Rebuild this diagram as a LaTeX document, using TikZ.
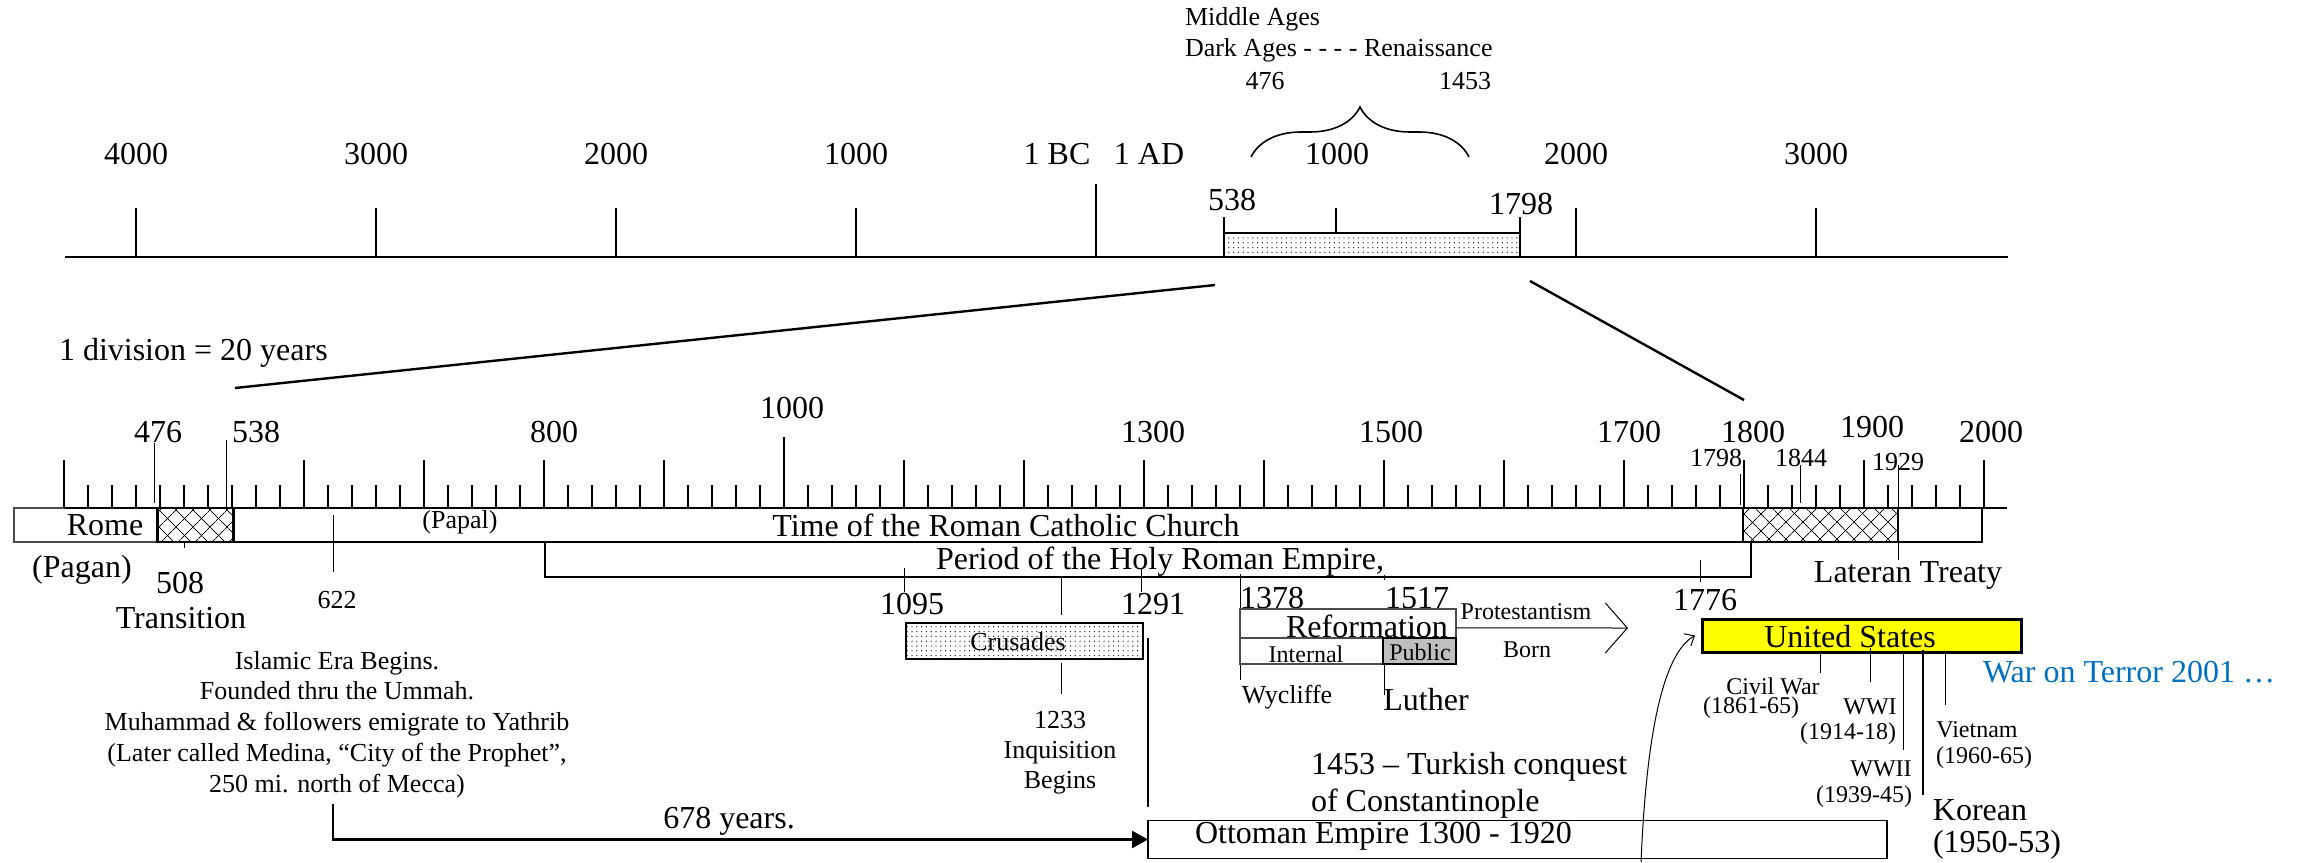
\documentclass[tikz,border=0pt]{standalone}
\usepackage{fontspec}
\setmainfont{Liberation Serif}
\usepackage{xcolor}
\usepackage{tikz}
\usetikzlibrary{arrows.meta,positioning,calc,patterns,patterns.meta,decorations.pathreplacing}
\definecolor{usyellow}{HTML}{FFFF00}
\definecolor{warblue}{HTML}{0070C0}
\definecolor{pubgray}{HTML}{BFBFBF}
\tikzset{
    every picture/.style={line cap=butt,line join=miter},
    lbl/.style={inner sep=0pt,outer sep=0pt,align=center,
      font=\fontsize{16}{18.5}\selectfont},
    lblmid/.style={inner sep=0pt,outer sep=0pt,align=center,
      font=\fontsize{13}{15.4}\selectfont},
    lblsml/.style={inner sep=0pt,outer sep=0pt,align=center,
      font=\fontsize{12}{14}\selectfont},
    axisline/.style={line width=1.4pt},
    tickmark/.style={line width=0.8pt},
    marker/.style={line width=0.5pt},
    bandbox/.style={draw,line width=0.9pt,inner sep=0pt,outer sep=0pt},
    thinbox/.style={bandbox,draw=black!70,line width=0.6pt},
    hatchbox/.style={bandbox,line width=1.4pt,
      pattern={Lines[angle=45,distance=6.5pt,line width=0.5pt]},
      postaction={pattern={Lines[angle=-45,distance=6.5pt,line width=0.5pt]}}},
    dotbox/.style={bandbox,line width=1.3pt,
      pattern={Dots[distance=2.4pt,radius=0.35pt]},pattern color=black!85},
    zoomline/.style={line width=1.2pt},
    flowarrow/.style={-{Triangle[length=8pt,width=8.5pt]},line width=1.3pt},
    openarrow/.style={-{Straight Barb[length=11pt,width=25pt]},line width=0.5pt},
    smallarrow/.style={-{Straight Barb[length=4pt,width=7pt]},line width=0.5pt}
}
\begin{document}
\begin{tikzpicture}[x=0.5pt,y=-0.5pt]
  \useasboundingbox (0,0) rectangle (2306,862);

  % the long scale
  \node[lblmid,anchor=west] (midages) at (1185,19) {Middle Ages};
  \node[lblmid,anchor=west] (darkages) at (1185,50) {Dark Ages - - - - Renaissance};
  \node[lblmid] (top476) at (1265,81) {476};
  \node[lblmid] (top1453) at (1465,81) {1453};
  \draw[line width=0.8pt,decorate,decoration={brace,amplitude=25pt}] (1251,157) -- (1469,157);

  \node[dotbox,minimum width=148pt,minimum height=12pt] (papacy) at (1372,245) {};
  \draw[axisline] (65,257) -- (2008,257);
  \foreach \k/\yr in {0/4000,1/3000,2/2000,3/1000,6/2000,7/3000}{
    \draw[tickmark] (136+240*\k,208) -- (136+240*\k,257);
    \node[lbl] (top\k) at (136+240*\k,154) {\yr};
  }
  \draw[tickmark] (1096,184) -- (1096,257);
  \draw[tickmark] (1336,208) -- (1336,233);
  \node[lbl] (topbc) at (1057,154) {1 BC};
  \node[lbl] (topad) at (1149,154) {1 AD};
  \node[lbl] (top5) at (1337,154) {1000};
  \draw[tickmark] (1224,217) -- (1224,233);
  \draw[tickmark] (1520,217) -- (1520,233);
  \node[lbl] (top538) at (1232,200) {538};
  \node[lbl] (top1798) at (1521,204) {1798};

  \coordinate (zoomA) at (1215,285);
  \coordinate (zoomB) at (235,388);
  \coordinate (zoomC) at (1530,281);
  \coordinate (zoomD) at (1744,400);
  \draw[zoomline] (zoomA) -- (zoomB);
  \draw[zoomline] (zoomC) -- (zoomD);
  \node[lbl,anchor=west] (division) at (59,353) {1 division = 20 years};

  % the 20-year scale
  \foreach \i in {0,...,80}
    \draw[tickmark] (64+24*\i,485) -- (64+24*\i,508);
  \foreach \i in {0,10,15,...,80}
    \draw[tickmark] (64+24*\i,460) -- (64+24*\i,508);
  \draw[tickmark] (784,437) -- (784,508);
  \foreach \x/\yr in {158/476,256/538,554/800,1153/1300,1391/1500,1629/1700,1753/1800,1991/2000}
    \node[lbl] (low\yr) at (\x,432) {\yr};
  \node[lbl] (low1000) at (792,408) {1000};
  \node[lbl] (low1900) at (1872,427) {1900};
  \node[lblmid] (low1798) at (1716,458) {1798};
  \node[lblmid] (low1844) at (1801,458) {1844};
  \node[lblmid] (low1929) at (1898,462) {1929};

  % bands
  \node[thinbox,minimum width=71.5pt,minimum height=17pt] (rome) at (85.5,525) {};
  \node[bandbox,minimum width=754.5pt,minimum height=17pt] (church) at (988.5,525) {};
  \node[bandbox,minimum width=42pt,minimum height=17pt] (modern) at (1940,525) {};
  \node[bandbox,line width=1.1pt,minimum width=603pt,minimum height=17.5pt] (holyrome) at (1148,559.5) {};
  \node[hatchbox,minimum width=38pt,minimum height=17pt] (transA) at (195.5,525) {};
  \node[hatchbox,minimum width=77.5pt,minimum height=17pt] (transB) at (1820.5,525) {};
  \draw[axisline] (64,508) -- (2007,508);
  \node[lbl] (rometext) at (105,525) {Rome};
  \node[lblmid] (papal) at (460,522) {(Papal)};
  \node[lbl] (churchtext) at (1006,525) {Time of the Roman Catholic Church};
  \node[lbl] (hretext) at (1160,562) {Period of the Holy Roman Empire,};

  % date marks
  \draw[marker] (154,443) -- (154,503);
  \draw[marker] (226,440) -- (226,508);
  \draw[marker] (184,542) -- (184,548);
  \draw[marker] (333,515) -- (333,572);
  \draw[marker] (1740,474) -- (1740,505);
  \draw[marker] (1800,465) -- (1800,503);
  \draw[marker] (1898,465) -- (1898,560);
  \draw[marker] (904,568) -- (904,592);
  \draw[marker] (1061,577) -- (1061,615);
  \draw[marker] (1061,663) -- (1061,694);
  \draw[marker] (1141,568) -- (1141,592);
  \draw[marker] (1240,574) -- (1240,680);
  \draw[marker] (1384,575) -- (1384,580);
  \draw[marker] (1384,664) -- (1384,695);
  \draw[marker] (1700,560) -- (1700,582);

  \node[lbl] (pagan) at (82,570) {(Pagan)};
  \node[lbl] (y508) at (180,583) {508};
  \node[lbl] (transition) at (181,618) {Transition};
  \node[lblmid] (y622) at (337,600) {622};
  \node[lblmid,anchor=north] (islam) at (337,651) {Islamic Era Begins.\\Founded thru the Ummah.\\Muhammad \& followers emigrate to Yathrib\\(Later called Medina, “City of the Prophet”,\\250 mi. north of Mecca)};
  \node[lbl] (y1095) at (912,604) {1095};
  \node[lbl] (y1291) at (1153,604) {1291};
  \node[lbl] (y1378) at (1272,598) {1378};
  \node[lbl] (y1517) at (1417,598) {1517};
  \node[lbl] (y1776) at (1705,600) {1776};
  \node[lbl] (lateran) at (1908,575) {Lateran Treaty};

  % crusades and inquisition
  \node[dotbox,minimum width=118.5pt,minimum height=18pt] (crusades) at (1024.5,641) {};
  \node[lblmid] (crusadestext) at (1018,642) {Crusades};
  \node[lblmid,anchor=north,font=\fontsize{13}{15}\selectfont] (inquisition) at (1060,711) {1233\\Inquisition\\Begins};
  \coordinate (ottotop) at (1148,638);
  \coordinate (ottobot) at (1148,807);
  \draw[tickmark] (ottotop) -- (ottobot);

  % reformation
  \node[thinbox,minimum width=108pt,minimum height=14.5pt] (reform) at (1348,623.5) {};
  \node[thinbox,minimum width=71.5pt,minimum height=13pt] (internal) at (1311.5,651) {};
  \node[bandbox,fill=pubgray,line width=1.3pt,minimum width=36.5pt,minimum height=13pt] (public) at (1419.5,651) {};
  \node[lbl] (reformtext) at (1367,626) {Reformation};
  \node[lblsml] (internaltext) at (1306,654) {Internal};
  \node[lblsml] (publictext) at (1420,652) {Public};
  \coordinate (protend) at (1628,628);
  \draw[openarrow] ([yshift=-2.2pt]reform.east) -- (protend);
  \node[lblsml] (protestantism) at (1526,612) {Protestantism};
  \node[lblsml] (born) at (1527,650) {Born};
  \node[lblmid] (wycliffe) at (1287,697) {Wycliffe};
  \node[lbl] (luther) at (1426,700) {Luther};

  \node[lbl,anchor=north west,align=left,font=\fontsize{16}{18.5}\selectfont] (conquest) at (1311,752) {1453 – Turkish conquest\\of Constantinople};

  % ottoman empire
  \node[thinbox,draw=black,line width=0.9pt,minimum width=369.5pt,minimum height=19pt] (ottoman) at (1517.5,839.5) {};
  \node[lbl,anchor=west] (ottomantext) at (1195,836) {Ottoman Empire 1300 - 1920};
  \coordinate (hijra) at (333,804);
  \draw[flowarrow] (hijra) |- (ottoman.west);
  \node[lbl] (years) at (729,821) {678 years.};

  % united states
  \node[bandbox,fill=usyellow,line width=1.5pt,minimum width=159.5pt,minimum height=16.5pt] (us) at (1861.5,635.5) {};
  \node[lbl] (ustext) at (1850,637) {United States};
  \coordinate (usfoot) at (1641,862);
  \draw[smallarrow] (usfoot) .. controls (1647,720) and (1666,652) .. ([xshift=-3.5pt]us.west);
  \draw[marker] (1820,652) -- (1820,673);
  \draw[marker] (1870,648) -- (1870,682);
  \draw[marker] (1903,654) -- (1903,750);
  \draw[line width=0.9pt] (1923,650) -- (1923,795);
  \draw[marker] (1945,652) -- (1945,705);
  \node[lblsml] (civilwar) at (1773,686) {Civil War};
  \node[lblsml] (civilyrs) at (1751,708) {(1861-65)};
  \node[lblsml] (wwone) at (1870,707) {WWI};
  \node[lblsml] (wwoneyrs) at (1848,734) {(1914-18)};
  \node[lblsml] (wwtwo) at (1881,769) {WWII};
  \node[lblsml] (wwtwoyrs) at (1864,797) {(1939-45)};
  \node[lblsml] (vietnam) at (1977,730) {Vietnam};
  \node[lblsml] (vietyrs) at (1984,758) {(1960-65)};
  \node[lbl] (korean) at (1980,810) {Korean};
  \node[lbl] (koreanyrs) at (1997,845) {(1950-53)};
  \node[lbl,anchor=west,text=warblue] (terror) at (1983,672) {War on Terror 2001 …};
\end{tikzpicture}
\end{document}
